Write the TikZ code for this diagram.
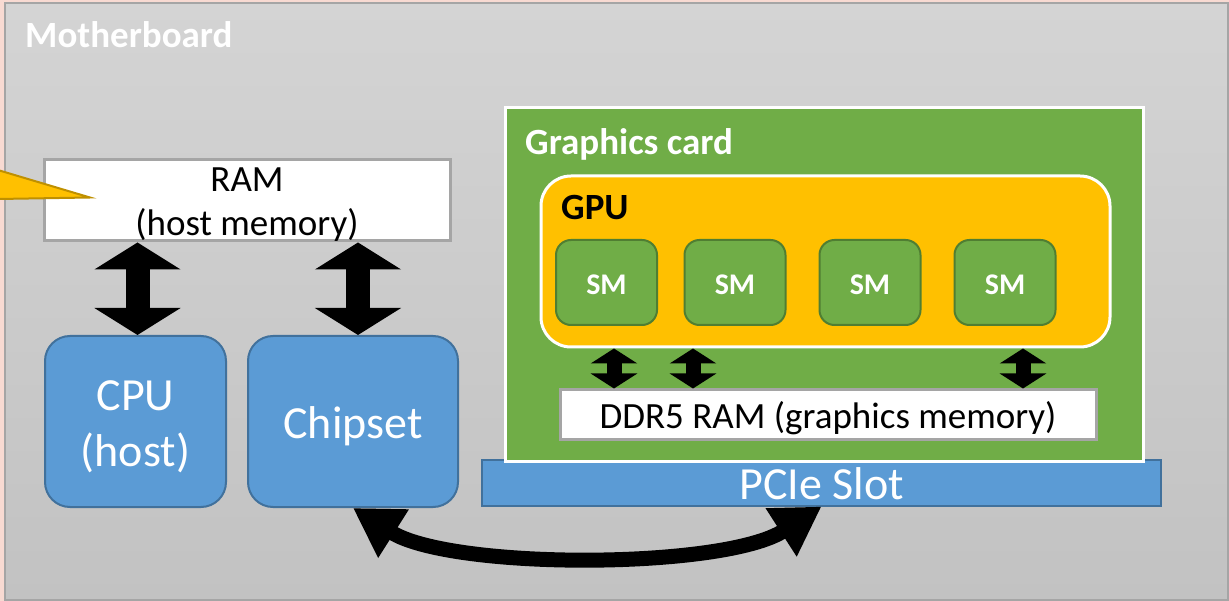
\documentclass[tikz,border=0pt]{standalone}
\usepackage{fontspec}
\setmainfont{Carlito}
\usetikzlibrary{arrows.meta}

\definecolor{pinkbg}{HTML}{F8DAD2}
\definecolor{mbtop}{HTML}{D4D4D4}
\definecolor{mbbot}{HTML}{C2C2C2}
\definecolor{rim}{HTML}{A5A5A5}
\definecolor{blu}{HTML}{5B9BD5}
\definecolor{bluedge}{HTML}{41719C}
\definecolor{grn}{HTML}{70AD47}
\definecolor{grnedge}{HTML}{507E32}
\definecolor{gold}{HTML}{FFC000}
\definecolor{goldedge}{HTML}{BF9000}

\newcommand\txtsize[2]{\fontsize{#1pt}{#2pt}\selectfont}
% invisible strut that lowers a centred block of text
\newcommand\lift[1]{\rule{0pt}{#1}}

\begin{document}
\begin{tikzpicture}[x=1pt,y=-1pt,
  membox/.style={draw=rim, line width=3pt, fill=white, inner sep=0pt,
    align=center, text=black, font=\txtsize{37}{44}},
  bluebox/.style={draw=bluedge, line width=2pt, fill=blu, inner sep=0pt,
    align=center, text=white, font=\txtsize{46}{56}},
  smbox/.style={draw=grnedge, line width=2pt, fill=grn, rounded corners=15pt,
    minimum width=101pt, minimum height=85pt, inner sep=0pt,
    text=white, font=\txtsize{30}{36}\bfseries},
  lbl/.style={inner sep=0pt, font=\txtsize{37}{44}\bfseries},
  bigdbl/.style={line width=24pt,
    {Triangle[length=27pt,width=85pt]}-{Triangle[length=27pt,width=85pt]}},
  smalldbl/.style={line width=15pt,
    {Triangle[length=15pt,width=46pt]}-{Triangle[length=15pt,width=46pt]}},
  busdbl/.style={line width=15pt,
    {Triangle[length=48pt,width=54pt]}-{Triangle[length=48pt,width=54pt]}},
]
\useasboundingbox (0,0) rectangle (1229,601);

% board background
\fill[pinkbg] (0,0) rectangle (1229,601);
\shade[top color=mbtop, bottom color=mbbot] (5,3) rectangle (1228,600);
\draw[rim, line width=1.5pt] (5,3) rectangle (1228,600);
\node[lbl, text=white, anchor=base west] (mb) at (25,47.5) {Motherboard};

% host side
\node[membox, minimum width=406pt, minimum height=80pt] (ram) at (247,200)
  {\lift{32pt}RAM\\(host memory)};
\node[bluebox, rounded corners=25pt, minimum width=181pt, minimum height=171pt]
  (cpu) at (135.5,421.5) {\lift{40pt}CPU\\(host)};
\node[bluebox, rounded corners=25pt, minimum width=210pt, minimum height=171pt]
  (chip) at (353,421.5) {\lift{42pt}Chipset};

% slot and graphics card
\node[bluebox, minimum width=679pt, minimum height=46pt] (pcie) at (821.5,482.5)
  {\lift{34pt}PCIe Slot};
\node[draw=white, line width=3pt, fill=grn, minimum width=638pt,
  minimum height=353pt, inner sep=0pt] (card) at (824,284.5) {};
\node[lbl, text=white, anchor=base west] (cardlbl) at (525,154.5) {Graphics card};

\node[draw=white, line width=3pt, fill=gold, rounded corners=30pt,
  minimum width=569pt, minimum height=171pt, inner sep=0pt] (gpu) at (825.5,261.5) {};
\node[lbl, text=black, anchor=base west] (gpulbl) at (561,219.5) {GPU};

\node[smbox] (sm1) at (606.5,282.5) {\lift{23.5pt}SM};
\node[smbox] (sm2) at (735,282.5) {\lift{23.5pt}SM};
\node[smbox] (sm3) at (870,282.5) {\lift{23.5pt}SM};
\node[smbox] (sm4) at (1005,282.5) {\lift{23.5pt}SM};

\node[membox, minimum width=536pt, minimum height=49pt] (ddr) at (828,414.5)
  {\lift{34pt}DDR5 RAM (graphics memory)};

% memory buses
\draw[bigdbl] ([xshift=2pt]cpu.north |- ram.south) -- ([xshift=2pt]cpu.north);
\draw[bigdbl] ([xshift=5pt]chip.north |- ram.south) -- ([xshift=5pt]chip.north);

\coordinate (l1) at (614,0);
\coordinate (l2) at (693,0);
\coordinate (l3) at (1023,0);
\draw[smalldbl] (l1 |- gpu.south) -- (l1 |- ddr.north);
\draw[smalldbl] (l2 |- gpu.south) -- (l2 |- ddr.north);
\draw[smalldbl] (l3 |- gpu.south) -- (l3 |- ddr.north);

% PCIe link between chipset and slot
\draw[busdbl] (chip.south) .. controls +(98,62) and +(-98,63) .. (pcie.south);

% callout pointer
\filldraw[fill=gold, draw=goldedge, line width=2pt]
  (-20,164.7) -- (90,197.5) -- (-20,199.3) -- cycle;
\end{tikzpicture}
\end{document}
